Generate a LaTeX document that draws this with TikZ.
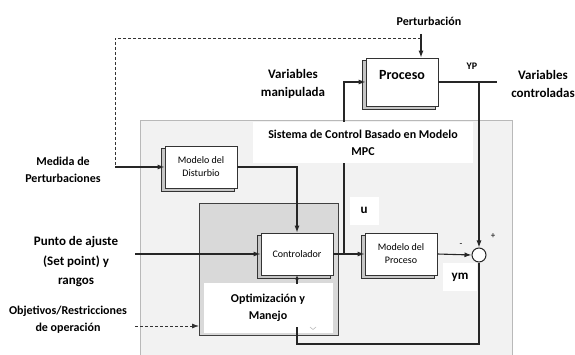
\documentclass[tikz,border=0pt]{standalone}
\usepackage{fontspec}
\setmainfont{Carlito}
\usetikzlibrary{arrows.meta,calc}
\pgfdeclarelayer{bgl}
\pgfdeclarelayer{shl}
\pgfsetlayers{bgl,shl,main}
\begin{document}
\begin{tikzpicture}[x=1pt,y=-1pt,
  conn/.style={draw=black!85, line width=1.1pt},
  arr/.style={conn,-{Latex[length=7pt,width=5pt]}},
  dsh/.style={draw=black!80, line width=0.8pt, dash pattern=on 3pt off 2pt},
  blk/.style={draw=black!80, line width=0.8pt, fill=white, minimum width=72pt,
     minimum height=42pt, inner sep=0pt, align=center,
     font=\fontsize{10}{13}\selectfont},
  shbox/.style={draw=black!80, fill=gray!45, line width=0.8pt},
  lbl/.style={align=center, inner sep=0pt, font=\bfseries\fontsize{12}{17}\selectfont},
  biglbl/.style={lbl, font=\bfseries\fontsize{13}{18}\selectfont},
]
\clip (0,0) rectangle (575,355);
\begin{pgfonlayer}{bgl}
\fill[white] (0,0) rectangle (575,355);
% MPC system background
\draw[draw=gray!55, fill=black!5, line width=0.8pt] (140,360) -- (140,120) -- (512,120) -- (512,360);
% optimizer region
\draw[draw=black!75, fill=black!15, line width=0.9pt] (199,203) rectangle (338,335);
\fill[white] (204,283) rectangle (333,333);
\end{pgfonlayer}
\node[lbl] (opt) at (268,308) {Optimización y\\Manejo};

% blocks
\node[blk] (dist) at (201,167) {Modelo del\\Disturbio};
\node[blk] (ctrl) at (297,254) {Controlador};
\node[blk] (mproc) at (401,254) {Modelo del\\Proceso};
\node[blk, minimum height=48pt] (proc) at (402,82) {};
\node[inner sep=0pt, font=\bfseries\fontsize{14}{17}\selectfont] (proct) at (402,75) {Proceso};
\node[circle, draw=black!85, line width=1pt, fill=white, minimum size=14pt, inner sep=0pt] (sum) at (479,255) {};

% 3D depth of the blocks (offset left and down)
\begin{pgfonlayer}{shl}
\foreach \n in {dist,ctrl,mproc,proc}
  \draw[shbox] ([shift={(-3,3)}]\n.south west) rectangle ([shift={(-3,3)}]\n.north east);
\end{pgfonlayer}

% coordinates
\coordinate (pin) at (421,34);
\coordinate (dc1) at (421,38);
\coordinate (dc2) at (115,38);
\coordinate (dm) at (115,167);
\coordinate (spin) at (135,254);
\coordinate (objin) at (135,326);
\coordinate (objend) at (199,326);
\coordinate (j1) at (344,254);
\coordinate (yout) at (497,82);
\coordinate (j2) at (479,82);
\coordinate (fbc) at (297,344);
\coordinate (fb) at (297,327);
\coordinate (optt) at (297,284);

% connectors
\draw[arr] (pin) -- (pin |- proc.north);
\draw[dsh] (dc1) -- (dc2) -- (dm);
\draw[arr] (dm) -- (dist.west);
\draw[arr] (spin) -- (ctrl.west);
\draw[dsh, -{Latex[length=7pt,width=5pt]}] (objin) -- (objend);
\draw[arr] (dist.east) -| (ctrl.north);
\draw[arr] (ctrl.east) -- (mproc.west);
\draw[arr] (j1) |- (proc.west);
\draw[arr] (mproc.east) -- (sum.west);
\draw[conn] (proc.east) -- (yout);
\draw[arr] (j2) -- (sum.north);
\draw[conn] (sum.south) |- (fbc) -- (fb);
\draw[conn, -{Latex[length=4pt,width=4pt]}] (optt) -- (ctrl.south);
\draw[gray!60, line width=0.5pt] (310,327) -- (313,329.5) -- (316,327);

% title box (hides the line behind it)
\fill[white] (253,122) rectangle (473,163);
\node[lbl] (title) at (363,143) {Sistema de Control Basado en Modelo\\MPC};
\fill[white] (350,197) rectangle (379,225);
\node[biglbl] (u) at (364,210) {u};
\fill[white] (443,263) rectangle (477,291);
\node[biglbl] (ym) at (460,277) {ym};
\node[inner sep=0pt, font=\fontsize{9}{10}\selectfont] (plus) at (493,236) {+};
\node[inner sep=0pt, font=\fontsize{9}{10}\selectfont] (minus) at (461,245) {-};

% labels
\node[lbl, font=\bfseries\fontsize{12}{14}\selectfont] (pertl) at (429,21) {Perturbación};
\node[biglbl] (vman) at (293,84) {Variables\\manipulada};
\node[lbl, font=\bfseries\fontsize{10}{12}\selectfont] (yp) at (472,66) {YP};
\node[biglbl] (vcon) at (543,84) {Variables\\controladas};
\node[lbl] (medida) at (63,170) {Medida de\\Perturbaciones};
\node[biglbl, font=\bfseries\fontsize{13}{19.5}\selectfont] (punto) at (76,262) {Punto de ajuste\\(Set point) y\\rangos};
\node[lbl] (obj) at (68,320) {Objetivos/Restricciones\\de operación};
\end{tikzpicture}
\end{document}
